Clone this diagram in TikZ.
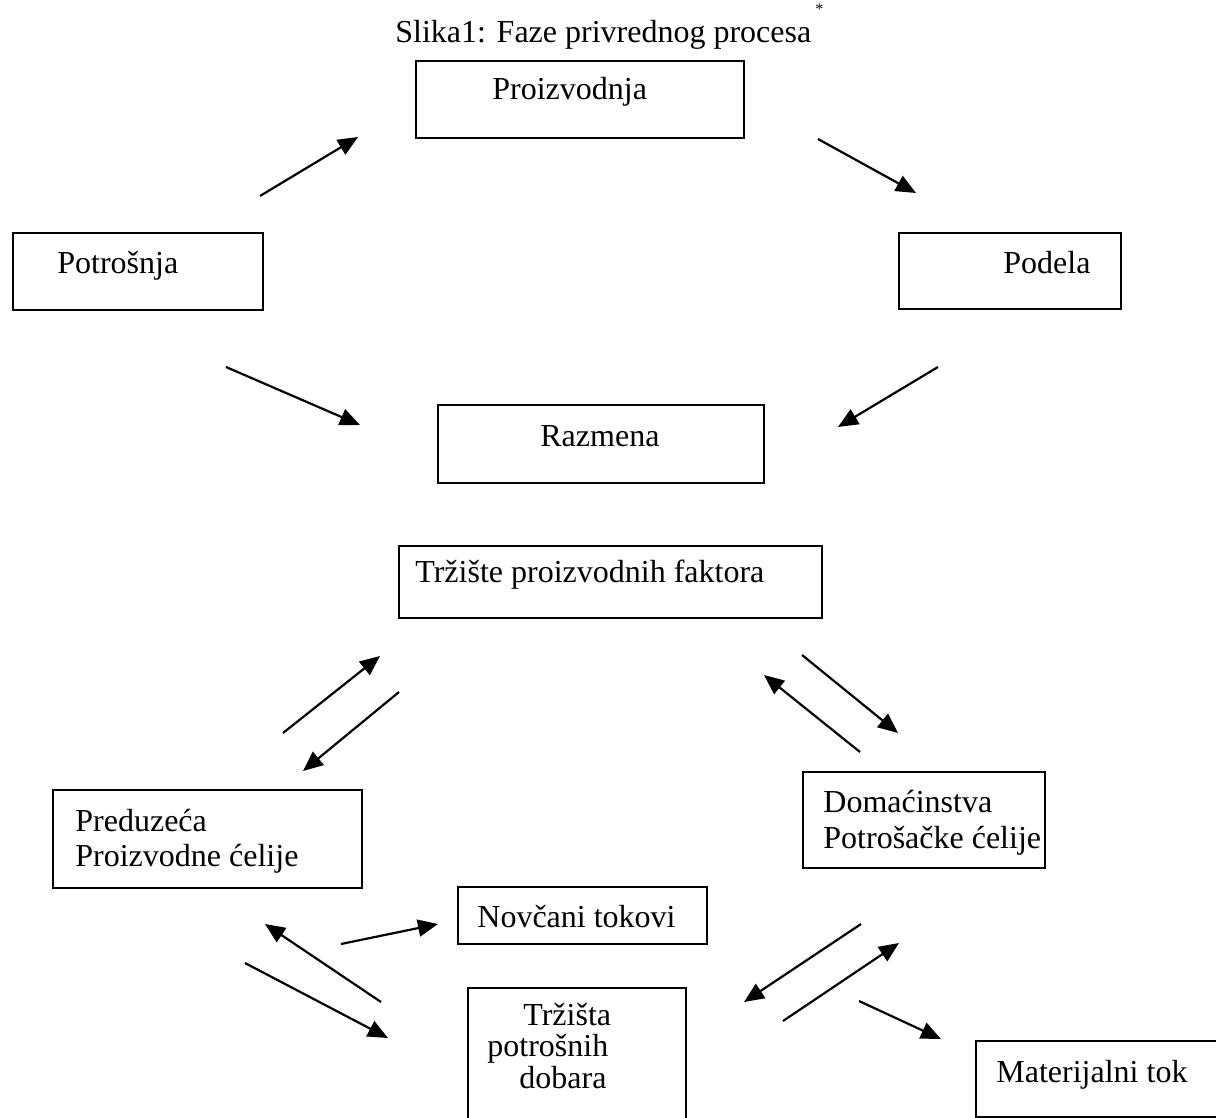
\documentclass[tikz,border=0pt]{standalone}
\usepackage{fontspec}
\setmainfont{Liberation Serif}
\usetikzlibrary{arrows.meta}
\newcommand\myfs{\fontsize{16}{19}\selectfont}
\tikzset{
  box/.style={draw, line width=0.9pt, inner sep=0pt, anchor=north west},
  arr/.style={-{Triangle[length=10pt,width=8.5pt]}, line width=1.1pt},
  txt/.style={anchor=base west, inner sep=0pt, font=\myfs},
}
\begin{document}
\begin{tikzpicture}[x=0.5pt,y=-0.5pt]
\useasboundingbox (0,0) rectangle (1216,1118);
\clip (0,0) rectangle (1216,1118);
% title
\node[txt] (title) at (395,43) {Slika1: Faze privrednog procesa};
\node[anchor=base west, inner sep=0pt, font=\fontsize{8}{9}\selectfont] (star) at (815,15) {*};
% boxes
\node[box, minimum width=164pt, minimum height=38.5pt] (prod) at (415,60) {};
\node[box, minimum width=125pt, minimum height=38.5pt] (potr) at (12,232) {};
\node[box, minimum width=111pt, minimum height=38pt] (podela) at (898,232) {};
\node[box, minimum width=163pt, minimum height=39pt] (razm) at (437,404) {};
\node[box, minimum width=211.5pt, minimum height=36pt] (trzpf) at (398,545) {};
\node[box, minimum width=154.5pt, minimum height=49pt] (pred) at (52,789) {};
\node[box, minimum width=121pt, minimum height=48pt] (dom) at (802,771) {};
\node[box, minimum width=124.5pt, minimum height=28.5pt] (novc) at (457,886) {};
\node[box, minimum width=109pt, minimum height=70pt] (trzpd) at (467,987) {};
\node[box, minimum width=130pt, minimum height=38pt] (mat) at (975,1040) {};
% texts
\node[txt] (tprod) at (492,100) {Proizvodnja};
\node[txt] (tpotr) at (57,274) {Potrošnja};
\node[txt] (tpodela) at (1003,274) {Podela};
\node[txt] (trazm) at (540,446) {Razmena};
\node[txt] (ttrzpf) at (415,582) {Tržište proizvodnih faktora};
\node[txt] (tpred1) at (75,831) {Preduzeća};
\node[txt] (tpred2) at (75,866) {Proizvodne ćelije};
\node[txt] (tdom1) at (823,812) {Domaćinstva};
\node[txt] (tdom2) at (823,848) {Potrošačke ćelije};
\node[txt] (tnovc) at (477,927) {Novčani tokovi};
\node[txt] (ttrzpd1) at (523,1025) {Tržišta};
\node[txt] (ttrzpd2) at (487,1056) {potrošnih};
\node[txt] (ttrzpd3) at (519,1088) {dobara};
\node[txt] (tmat) at (996,1082) {Materijalni tok};
% arrow end points
\coordinate (a1s) at (260,196); \coordinate (a1e) at (358,137);
\coordinate (a2s) at (818,139); \coordinate (a2e) at (916,193);
\coordinate (a3s) at (226,367); \coordinate (a3e) at (360,425);
\coordinate (a4s) at (938,367); \coordinate (a4e) at (838,427);
\coordinate (a5s) at (283,733); \coordinate (a5e) at (380,656);
\coordinate (a6s) at (399,692); \coordinate (a6e) at (303,771);
\coordinate (a7s) at (802,655); \coordinate (a7e) at (898,733);
\coordinate (a8s) at (860,752); \coordinate (a8e) at (764,675);
\coordinate (a9s) at (341,944); \coordinate (a9e) at (438,924);
\coordinate (a10s) at (381,1002); \coordinate (a10e) at (265,924);
\coordinate (a11s) at (245,963); \coordinate (a11e) at (388,1038);
\coordinate (a12s) at (861,924); \coordinate (a12e) at (744,1002);
\coordinate (a13s) at (783,1021); \coordinate (a13e) at (899,943);
\coordinate (a14s) at (859,1001); \coordinate (a14e) at (941,1039);
% arrows
\foreach \i in {1,...,14} \draw[arr] (a\i s) -- (a\i e);
\end{tikzpicture}
\end{document}
